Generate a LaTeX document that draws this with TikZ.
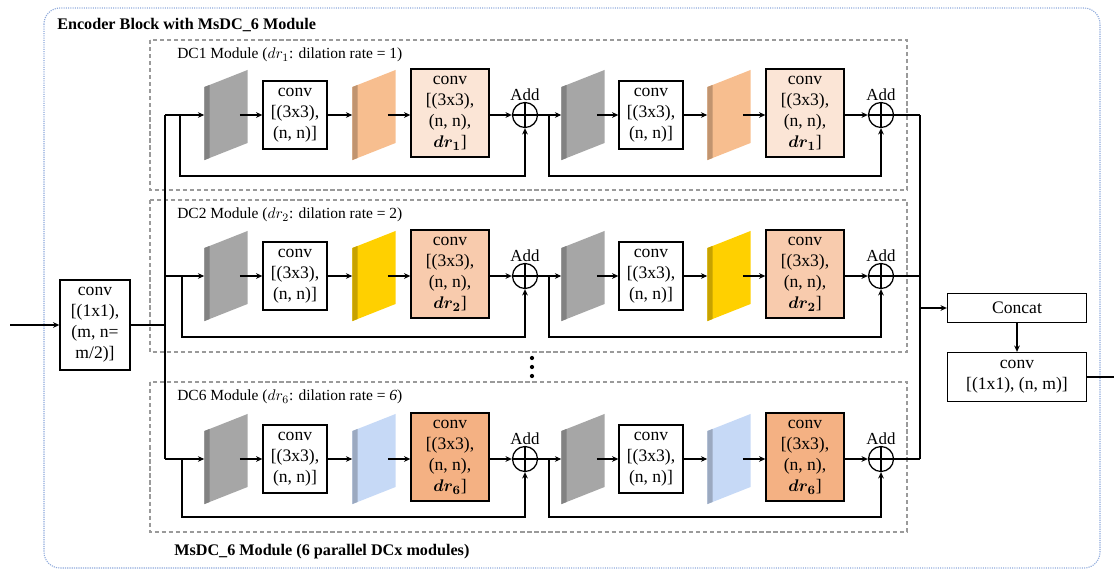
\documentclass[tikz,border=0pt]{standalone}
\usepackage{amsmath}
\usepackage{fontspec}
\setmainfont{Liberation Serif}
\usepackage{tikz}
\usetikzlibrary{arrows.meta,positioning}

\definecolor{slabgray}{HTML}{A6A6A6}
\definecolor{slaborange}{HTML}{F7BE8F}
\definecolor{slabyellow}{HTML}{FFD000}
\definecolor{slabblue}{HTML}{C6D9F6}
\definecolor{dil1}{HTML}{FBE5D6}
\definecolor{dil2}{HTML}{F8CBAD}
\definecolor{dil6}{HTML}{F4B183}
\definecolor{outerblue}{HTML}{8EA9DB}
\definecolor{modgray}{HTML}{9A9A9A}

\tikzset{
  wire/.style={line width=0.9pt},
  arr/.style={line width=0.9pt,-{Stealth[length=4.5pt,width=4pt]}},
  box/.style={draw,line width=0.9pt,align=center,inner sep=1pt,font=\fontsize{12.5}{15}\selectfont},
  conv33/.style={box,minimum width=1.6cm,minimum height=1.7cm},
  dilbox/.style={box,fill=#1,minimum width=1.95cm,minimum height=2.2cm},
  slab/.style={inner sep=0pt,minimum width=1.075cm,minimum height=2.25cm,
    path picture={
      \coordinate (sw) at (path picture bounding box.south west);
      \coordinate (ne) at (path picture bounding box.north east);
      \fill[#1] (sw) -- ++(0,1.825cm) -- (ne) -- ++(0,-1.825cm) -- cycle;
      \fill[#1!78!black] (sw) -- ++(0,1.825cm) -- ++(0.13cm,0.052cm) -- ++(0,-1.825cm) -- cycle;
    }},
  add/.style={draw,circle,line width=0.9pt,minimum size=0.625cm,inner sep=0pt,
    path picture={\draw[line width=0.9pt] (path picture bounding box.north) -- (path picture bounding box.south)
      (path picture bounding box.west) -- (path picture bounding box.east);},
    label={[font=\fontsize{12}{14}\selectfont,inner sep=1pt]above:Add}},
  modbox/.style={draw=modgray,line width=0.8pt,dash pattern=on 3pt off 2pt},
  modlabel/.style={anchor=west,inner sep=0pt,font=\fontsize{11}{13}\selectfont},
  headlabel/.style={anchor=west,inner sep=0pt,font=\bfseries\fontsize{11.5}{13}\selectfont}
}

\begin{document}
\begin{tikzpicture}[x=0.025cm,y=-0.025cm]
\useasboundingbox (0,0) rectangle (1114,572);

% outer encoder block
\draw[outerblue,line width=0.8pt,dash pattern=on 0.8pt off 0.8pt,rounded corners=0.4cm] (44,8) rectangle (1100,568);
\node[headlabel] (title) at (57,25) {Encoder Block with MsDC\_6 Module};
\node[headlabel] (foot) at (174,552) {MsDC\_6 Module (6 parallel DCx modules)};

% module frames
\draw[modbox] (150,40) rectangle (907,190);
\draw[modbox] (150,200) rectangle (907,352);
\draw[modbox] (150,382) rectangle (907,532);
\node[modlabel] (lab1) at (177,55) {DC1 Module ($dr_1$: dilation rate = 1)};
\node[modlabel] (lab2) at (177,215) {DC2 Module ($dr_2$: dilation rate = 2)};
\node[modlabel] (lab6) at (177,397) {DC6 Module ($dr_6$: dilation rate = \textit{6})};
\fill (532,358) circle (1.5pt) (532,367) circle (1.5pt) (532,376) circle (1.5pt);

% input / output
\coordinate (in) at (10,325);
\node[box,minimum width=1.75cm,minimum height=2.25cm] (kin) at (95,325) {conv\\{[}(1x1),\\(m, n=\\m/2){]}};
\node[box,minimum width=3.475cm,minimum height=0.725cm] (cat) at (1017,308) {Concat};
\node[box,minimum width=3.475cm,minimum height=1.225cm] (kout) at (1017,377) {conv\\{[}(1x1), (n, m){]}};
\coordinate (out) at (1114,377);

\coordinate (tl1) at (165,115);
\coordinate (tl2) at (165,276);
\coordinate (tl6) at (165,459);
\coordinate (tr1) at (920,115);
\coordinate (tr2) at (920,276);
\coordinate (tr6) at (920,459);

% DC1
\node[slab=slabgray] (g1a) at (226,115) {};
\node[conv33] (k1a) at (295,115) {conv\\{[}(3x3),\\(n, n){]}};
\node[slab=slaborange] (o1a) at (374,115) {};
\node[dilbox=dil1] (d1a) at (450,113) {conv\\{[}(3x3),\\(n, n),\\$\boldsymbol{dr_1}${]}};
\node[add] (p1a) at (525,115) {};
\node[slab=slabgray] (g1b) at (583,115) {};
\node[conv33] (k1b) at (651,115) {conv\\{[}(3x3),\\(n, n){]}};
\node[slab=slaborange] (o1b) at (729,115) {};
\node[dilbox=dil1] (d1b) at (805,113) {conv\\{[}(3x3),\\(n, n),\\$\boldsymbol{dr_1}${]}};
\node[add] (p1b) at (881,115) {};
\coordinate (s1a) at (180,115);
\coordinate (s1b) at (549,115);

% DC2
\node[slab=slabgray] (g2a) at (226,276) {};
\node[conv33] (k2a) at (295,276) {conv\\{[}(3x3),\\(n, n){]}};
\node[slab=slabyellow] (o2a) at (374,276) {};
\node[dilbox=dil2] (d2a) at (450,274) {conv\\{[}(3x3),\\(n, n),\\$\boldsymbol{dr_2}${]}};
\node[add] (p2a) at (525,276) {};
\node[slab=slabgray] (g2b) at (583,276) {};
\node[conv33] (k2b) at (651,276) {conv\\{[}(3x3),\\(n, n){]}};
\node[slab=slabyellow] (o2b) at (729,276) {};
\node[dilbox=dil2] (d2b) at (805,274) {conv\\{[}(3x3),\\(n, n),\\$\boldsymbol{dr_2}${]}};
\node[add] (p2b) at (881,276) {};
\coordinate (s2a) at (182,276);
\coordinate (s2b) at (549,276);

% DC6
\node[slab=slabgray] (g6a) at (226,459) {};
\node[conv33] (k6a) at (295,459) {conv\\{[}(3x3),\\(n, n){]}};
\node[slab=slabblue] (o6a) at (374,459) {};
\node[dilbox=dil6] (d6a) at (450,457) {conv\\{[}(3x3),\\(n, n),\\$\boldsymbol{dr_6}${]}};
\node[add] (p6a) at (525,459) {};
\node[slab=slabgray] (g6b) at (583,459) {};
\node[conv33] (k6b) at (651,459) {conv\\{[}(3x3),\\(n, n){]}};
\node[slab=slabblue] (o6b) at (729,459) {};
\node[dilbox=dil6] (d6b) at (805,457) {conv\\{[}(3x3),\\(n, n),\\$\boldsymbol{dr_6}${]}};
\node[add] (p6b) at (881,459) {};
\coordinate (s6a) at (182,459);
\coordinate (s6b) at (549,459);

% row wiring
\draw[arr] (tl1) -- (g1a.west);
\draw[arr] ([xshift=-0.2cm]g1a.east) -- (k1a);
\draw[arr] (k1a) -- (o1a.west);
\draw[arr] ([xshift=-0.2cm]o1a.east) -- (d1a.west |- p1a);
\draw[arr] (d1a.east |- p1a) -- (p1a);
\draw[arr] (p1a) -- (g1b.west);
\draw[arr] ([xshift=-0.2cm]g1b.east) -- (k1b);
\draw[arr] (k1b) -- (o1b.west);
\draw[arr] ([xshift=-0.2cm]o1b.east) -- (d1b.west |- p1b);
\draw[arr] (d1b.east |- p1b) -- (p1b);
\draw[wire] (p1b) -- (tr1);
\draw[arr] (s1a) -- ++(0,61) -| (p1a.south);
\draw[arr] (s1b) -- ++(0,61) -| (p1b.south);

\draw[arr] (tl2) -- (g2a.west);
\draw[arr] ([xshift=-0.2cm]g2a.east) -- (k2a);
\draw[arr] (k2a) -- (o2a.west);
\draw[arr] ([xshift=-0.2cm]o2a.east) -- (d2a.west |- p2a);
\draw[arr] (d2a.east |- p2a) -- (p2a);
\draw[arr] (p2a) -- (g2b.west);
\draw[arr] ([xshift=-0.2cm]g2b.east) -- (k2b);
\draw[arr] (k2b) -- (o2b.west);
\draw[arr] ([xshift=-0.2cm]o2b.east) -- (d2b.west |- p2b);
\draw[arr] (d2b.east |- p2b) -- (p2b);
\draw[wire] (p2b) -- (tr2);
\draw[arr] (s2a) -- ++(0,61) -| (p2a.south);
\draw[arr] (s2b) -- ++(0,61) -| (p2b.south);

\draw[arr] (tl6) -- (g6a.west);
\draw[arr] ([xshift=-0.2cm]g6a.east) -- (k6a);
\draw[arr] (k6a) -- (o6a.west);
\draw[arr] ([xshift=-0.2cm]o6a.east) -- (d6a.west |- p6a);
\draw[arr] (d6a.east |- p6a) -- (p6a);
\draw[arr] (p6a) -- (g6b.west);
\draw[arr] ([xshift=-0.2cm]g6b.east) -- (k6b);
\draw[arr] (k6b) -- (o6b.west);
\draw[arr] ([xshift=-0.2cm]o6b.east) -- (d6b.west |- p6b);
\draw[arr] (d6b.east |- p6b) -- (p6b);
\draw[wire] (p6b) -- (tr6);
\draw[arr] (s6a) -- ++(0,58) -| (p6a.south);
\draw[arr] (s6b) -- ++(0,58) -| (p6b.south);

% trunks
\draw[arr] (in) -- (kin);
\draw[wire] (kin.east) -- (kin.east -| tl1);
\draw[wire] (tl1) -- (tl6);
\draw[wire] (tr1) -- (tr6);
\draw[arr] (cat.west -| tr1) -- (cat);
\draw[arr] (cat) -- (kout);
\draw[wire] (kout.east) -- (out);
\end{tikzpicture}
\end{document}
